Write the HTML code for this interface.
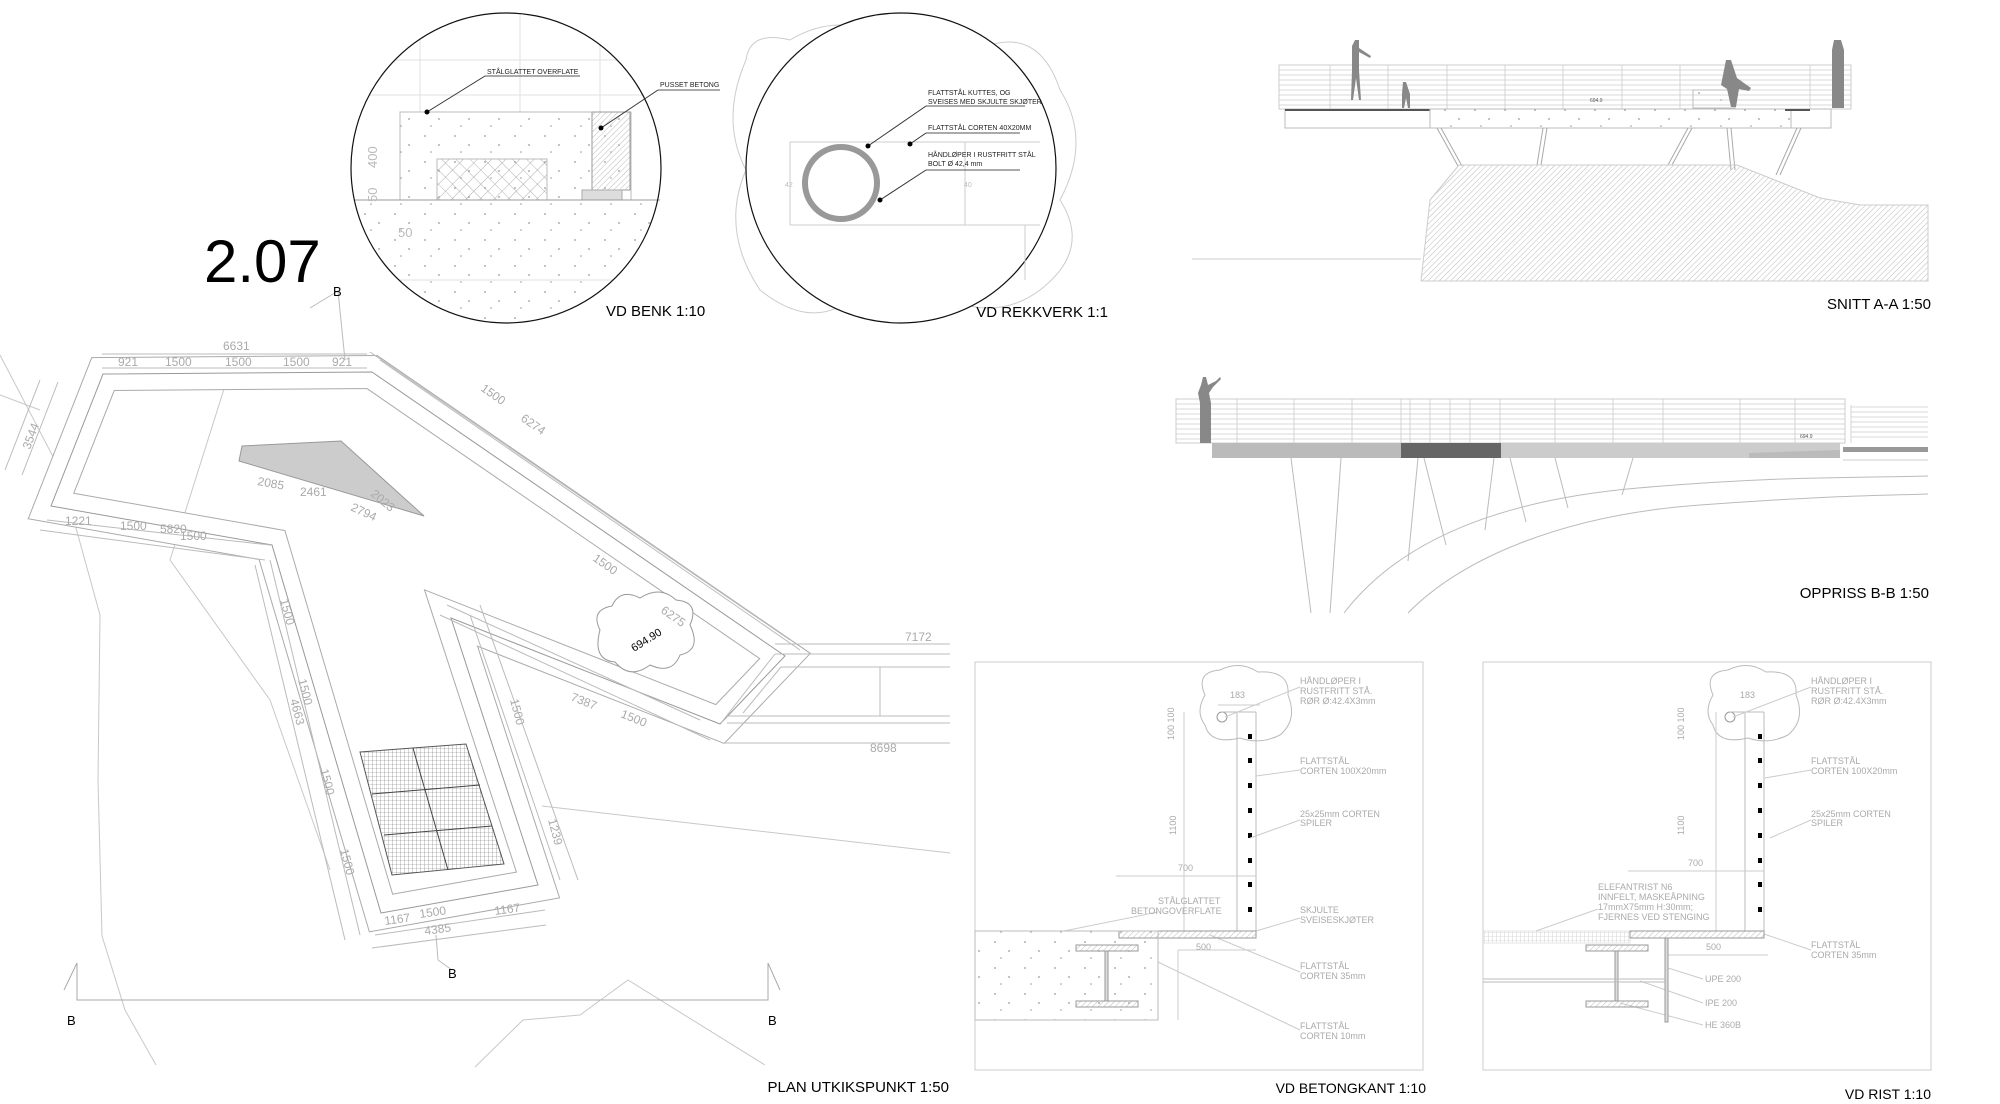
<!DOCTYPE html>
<html><head><meta charset="utf-8"><style>
html,body{margin:0;padding:0;background:#fff;}
svg{display:block}
text{font-family:"Liberation Sans",sans-serif;}
.m{font-family:"Liberation Mono",monospace;fill:#aaa;font-size:9px}
.d{font-family:"Liberation Sans",sans-serif;fill:#aaa;font-size:12px}
</style></head><body>
<svg width="2000" height="1104" viewBox="0 0 2000 1104" xmlns="http://www.w3.org/2000/svg">
<defs>
<pattern id="hatch" width="4" height="4" patternUnits="userSpaceOnUse" patternTransform="rotate(45)"><line x1="0" y1="0" x2="0" y2="4" stroke="#bbb" stroke-width="1"/></pattern>
<pattern id="xh" width="10" height="10" patternUnits="userSpaceOnUse" patternTransform="rotate(45)"><path d="M0 0H10M0 0V10" stroke="#999" stroke-width="0.8" fill="none"/></pattern>
<pattern id="grid" width="4" height="4" patternUnits="userSpaceOnUse"><path d="M0 0H4M0 0V4" stroke="#777" stroke-width="0.6" fill="none"/></pattern>
<pattern id="dots" width="30" height="26" patternUnits="userSpaceOnUse"><circle cx="5" cy="6" r="0.9" fill="#999"/><circle cx="19" cy="15" r="0.9" fill="#999"/><circle cx="11" cy="22" r="0.8" fill="#999"/></pattern>
</defs>

<text x="204" y="282" font-size="60" fill="#000">2.07</text>

<g>
<clipPath id="c1"><circle cx="506" cy="168" r="155"/></clipPath>
<g clip-path="url(#c1)" stroke="#e2e2e2" stroke-width="1">
<line x1="340" y1="60" x2="680" y2="60"/><line x1="340" y1="95" x2="680" y2="95"/><line x1="340" y1="280" x2="680" y2="280"/>
<line x1="420" y1="0" x2="420" y2="112"/><line x1="520" y1="0" x2="520" y2="112"/><line x1="600" y1="0" x2="600" y2="112"/>
<rect x="350" y="200" width="320" height="130" fill="url(#dots)" stroke="none"/>
</g>
<rect x="400" y="112" width="231" height="88" fill="url(#dots)" stroke="#bbb"/>
<rect x="437" y="159" width="110" height="41" fill="url(#xh)" stroke="#bbb"/>
<rect x="592" y="112" width="38" height="78" fill="url(#hatch)" stroke="#999"/>
<rect x="582" y="190" width="40" height="10" fill="#ddd" stroke="#aaa"/>
<line x1="355" y1="200" x2="660" y2="200" stroke="#999"/>
<text x="377" y="168" font-size="13" fill="#bbb" transform="rotate(-90 377 168)">400</text>
<text x="377" y="202" font-size="13" fill="#bbb" transform="rotate(-90 377 202)">50</text>
<text x="398" y="237" font-size="13" fill="#bbb">50</text>
<circle cx="506" cy="168" r="155" fill="none" stroke="#111" stroke-width="1.2"/>
<text x="487" y="74" font-size="7" fill="#222">STÅLGLATTET OVERFLATE</text>
<line x1="485" y1="76" x2="580" y2="76" stroke="#555"/>
<polyline points="485,76 427,112" stroke="#333" fill="none"/><circle cx="427" cy="112" r="2.5" fill="#000"/>
<text x="660" y="87" font-size="7" fill="#222">PUSSET BETONG</text>
<line x1="658" y1="90" x2="720" y2="90" stroke="#555"/>
<polyline points="658,90 601,128" stroke="#333" fill="none"/><circle cx="601" cy="128" r="2.5" fill="#000"/>
<text x="606" y="316" font-size="15" fill="#000">VD BENK 1:10</text>
</g>

<g>
<path d="M746,60 Q720,120 746,170 Q720,230 760,290 Q810,330 850,300 Q900,330 950,300 Q1000,320 1040,290 Q1092,250 1060,200 Q1092,140 1060,90 Q1040,30 990,45 Q940,10 890,40 Q840,10 790,40 Q750,30 746,60Z" fill="none" stroke="#ccc"/>
<circle cx="901" cy="168" r="155" fill="#fff" stroke="#111" stroke-width="1.2"/>
<circle cx="841" cy="183" r="36" fill="none" stroke="#999" stroke-width="6"/>
<line x1="790" y1="142" x2="1040" y2="142" stroke="#ccc"/><line x1="790" y1="225" x2="1040" y2="225" stroke="#ccc"/>
<line x1="790" y1="142" x2="790" y2="225" stroke="#ccc"/><line x1="965" y1="142" x2="965" y2="225" stroke="#ccc"/>
<text x="785" y="187" font-size="7" fill="#bbb">42</text><text x="964" y="187" font-size="7" fill="#bbb">40</text>
<line x1="925" y1="225" x2="1025" y2="225" stroke="#ccc"/><line x1="1025" y1="225" x2="1025" y2="280" stroke="#ccc"/>
<text x="928" y="95" font-size="7" fill="#222">FLATTSTÅL KUTTES, OG</text>
<text x="928" y="104" font-size="7" fill="#222">SVEISES MED SKJULTE SKJØTER</text>
<line x1="926" y1="106" x2="1025" y2="106" stroke="#555"/>
<polyline points="926,106 868,146" stroke="#333" fill="none"/><circle cx="868" cy="146" r="2.5" fill="#000"/>
<text x="928" y="130" font-size="7" fill="#222">FLATTSTÅL CORTEN 40X20MM</text>
<line x1="926" y1="133" x2="1020" y2="133" stroke="#555"/>
<polyline points="926,133 910,144" stroke="#333" fill="none"/><circle cx="910" cy="144" r="2.5" fill="#000"/>
<text x="928" y="157" font-size="7" fill="#222">HÅNDLØPER I RUSTFRITT STÅL</text>
<text x="928" y="166" font-size="7" fill="#222">BOLT Ø 42,4 mm</text>
<line x1="926" y1="170" x2="1020" y2="170" stroke="#555"/>
<polyline points="926,170 880,200" stroke="#333" fill="none"/><circle cx="880" cy="200" r="2.5" fill="#000"/>
<text x="1108" y="317" font-size="15" fill="#000" text-anchor="end">VD REKKVERK 1:1</text>
</g>

<g>
<rect x="1279" y="65" width="572" height="44" fill="none" stroke="#ccc"/>
<g stroke="#ccc" stroke-width="0.8">
<line x1="1279" y1="70" x2="1851" y2="70"/><line x1="1279" y1="75" x2="1851" y2="75"/><line x1="1279" y1="80" x2="1851" y2="80"/><line x1="1279" y1="85" x2="1851" y2="85"/><line x1="1279" y1="90" x2="1851" y2="90"/><line x1="1279" y1="95" x2="1851" y2="95"/><line x1="1279" y1="100" x2="1851" y2="100"/><line x1="1279" y1="105" x2="1851" y2="105"/>
<line x1="1330" y1="65" x2="1330" y2="109"/><line x1="1388" y1="65" x2="1388" y2="109"/><line x1="1447" y1="65" x2="1447" y2="109"/><line x1="1505" y1="65" x2="1505" y2="109"/><line x1="1563" y1="65" x2="1563" y2="109"/><line x1="1622" y1="65" x2="1622" y2="109"/><line x1="1680" y1="65" x2="1680" y2="109"/><line x1="1810" y1="65" x2="1810" y2="109"/>
</g>
<text x="1590" y="102" font-size="5" fill="#555">694.9</text>
<rect x="1285" y="109" width="145" height="19" fill="none" stroke="#bbb"/>
<line x1="1285" y1="110" x2="1430" y2="110" stroke="#555" stroke-width="2"/>
<rect x="1430" y="109" width="361" height="19" fill="url(#dots)" stroke="#bbb"/>
<rect x="1791" y="109" width="40" height="19" fill="none" stroke="#bbb"/>
<line x1="1785" y1="110" x2="1810" y2="110" stroke="#555" stroke-width="2"/>
<rect x="1693" y="90" width="42" height="18" fill="url(#dots)" stroke="#bbb"/>
<g fill="#888">
<path d="M1355,40 h4 v8 l12,8 -1,2 -11,-6 v18 l2,30 h-2 l-3,-22 -3,22 h-2 l1,-30 v-24z"/>
<path d="M1403,82 h3 l4,12 v14 h-2 l-2,-10 -2,10 h-2 v-14z"/>
<path d="M1726,60 h5 l6,18 l14,10 -2,3 -10,-2 -3,18 h-5 l-4,-18 -6,-4z"/>
<path d="M1834,40 h7 l3,10 v58 h-12 v-58z"/>
</g>
<g stroke="#aaa" fill="none">
<line x1="1437" y1="128" x2="1458" y2="166"/><line x1="1441" y1="128" x2="1462" y2="166"/>
<line x1="1543" y1="128" x2="1537" y2="165"/><line x1="1547" y1="128" x2="1541" y2="165"/>
<line x1="1688" y1="128" x2="1668" y2="165"/><line x1="1692" y1="128" x2="1672" y2="165"/>
<line x1="1727" y1="128" x2="1731" y2="170"/><line x1="1731" y1="128" x2="1735" y2="170"/>
<line x1="1797" y1="128" x2="1776" y2="175"/><line x1="1801" y1="128" x2="1780" y2="175"/>
</g>
<path d="M1459,165 L1737,165 L1820,198 L1860,205 L1928,205 L1928,281 L1421,281 L1430,200Z" fill="url(#hatch)" stroke="#ccc"/>
<line x1="1192" y1="259" x2="1421" y2="259" stroke="#ccc"/>
<text x="1931" y="309" font-size="15" fill="#000" text-anchor="end">SNITT A-A 1:50</text>
</g>

<g>
<rect x="1176" y="399" width="669" height="44" fill="none" stroke="#ccc"/>
<g stroke="#ccc" stroke-width="0.8">
<line x1="1176" y1="404" x2="1845" y2="404"/><line x1="1176" y1="409" x2="1845" y2="409"/><line x1="1176" y1="414" x2="1845" y2="414"/><line x1="1176" y1="419" x2="1845" y2="419"/><line x1="1176" y1="424" x2="1845" y2="424"/><line x1="1176" y1="429" x2="1845" y2="429"/><line x1="1176" y1="434" x2="1845" y2="434"/><line x1="1176" y1="439" x2="1845" y2="439"/>
<line x1="1237" y1="399" x2="1237" y2="443"/><line x1="1294" y1="399" x2="1294" y2="443"/><line x1="1352" y1="399" x2="1352" y2="443"/><line x1="1401" y1="399" x2="1401" y2="443"/><line x1="1410" y1="399" x2="1410" y2="443"/><line x1="1430" y1="399" x2="1430" y2="443"/><line x1="1450" y1="399" x2="1450" y2="443"/><line x1="1470" y1="399" x2="1470" y2="443"/><line x1="1500" y1="399" x2="1500" y2="443"/><line x1="1555" y1="399" x2="1555" y2="443"/><line x1="1613" y1="399" x2="1613" y2="443"/><line x1="1663" y1="399" x2="1663" y2="443"/><line x1="1740" y1="399" x2="1740" y2="443"/><line x1="1795" y1="399" x2="1795" y2="443"/>
<line x1="1851" y1="407" x2="1928" y2="407"/><line x1="1851" y1="412" x2="1928" y2="412"/><line x1="1851" y1="417" x2="1928" y2="417"/><line x1="1851" y1="422" x2="1928" y2="422"/><line x1="1851" y1="427" x2="1928" y2="427"/><line x1="1851" y1="432" x2="1928" y2="432"/><line x1="1851" y1="437" x2="1928" y2="437"/>
<line x1="1851" y1="405" x2="1851" y2="443"/>
</g>
<text x="1800" y="438" font-size="5" fill="#555">694.9</text>
<rect x="1212" y="443" width="189" height="15" fill="#bbb"/>
<rect x="1401" y="443" width="100" height="15" fill="#666"/>
<rect x="1501" y="443" width="172" height="15" fill="#ccc"/>
<rect x="1673" y="443" width="167" height="15" fill="#ccc"/>
<path d="M1749,458 L1840,458 L1840,450 L1749,453Z" fill="#bbb"/>
<rect x="1843" y="447" width="85" height="5" fill="#999"/>
<line x1="1843" y1="460" x2="1928" y2="460" stroke="#ccc"/>
<path d="M1200,443 v-40 l-2,-10 3,-8 2,-8 h3 l2,8 8,-4 4,-4 1,2 -8,8 -4,6 2,10 v40z" fill="#888"/>
<g stroke="#bbb" fill="none">
<line x1="1291" y1="458" x2="1311" y2="613"/><line x1="1341" y1="458" x2="1330" y2="613"/>
<line x1="1418" y1="458" x2="1408" y2="561"/><line x1="1424" y1="458" x2="1446" y2="545"/>
<line x1="1494" y1="458" x2="1485" y2="530"/><line x1="1510" y1="458" x2="1526" y2="522"/>
<line x1="1555" y1="458" x2="1568" y2="508"/><line x1="1633" y1="458" x2="1622" y2="495"/>
<path d="M1344,613 C1400,540 1500,500 1638,488 S1850,478 1928,476"/>
<path d="M1408,613 C1460,560 1560,515 1700,505 S1870,496 1928,494"/>
</g>
<text x="1929" y="598" font-size="15" fill="#000" text-anchor="end">OPPRISS B-B 1:50</text>
</g>

<g fill="none">
<g stroke="#c8c8c8">
<polyline points="0,355 60,470 100,615 98,780 102,936 125,1010 156,1065"/>
<polyline points="230,370 170,560 270,700 330,870"/>
<polyline points="475,1067 523,1020 580,1015 628,980 765,1065"/>
<line x1="542" y1="806" x2="950" y2="853"/>
<line x1="0" y1="395" x2="40" y2="410"/>
</g>
<path d="M103,374 L372,372 L785,656 L720,724 L451,618 L538,885 L381,913 L272,545 L51,506Z" stroke="#aaa" stroke-width="34" stroke-linejoin="miter"/>
<path d="M103,374 L372,372 L785,656 L720,724 L451,618 L538,885 L381,913 L272,545 L51,506Z" stroke="#fff" stroke-width="32" stroke-linejoin="miter"/>
<path d="M103,374 L372,372 L785,656 L720,724 L451,618 L538,885 L381,913 L272,545 L51,506Z" stroke="#999" stroke-width="1"/>
<g stroke="#bbb">
<line x1="102" y1="354" x2="367" y2="354"/><line x1="102" y1="368" x2="367" y2="368"/>
<line x1="40" y1="380" x2="5" y2="470"/><line x1="58" y1="382" x2="22" y2="475"/>
<line x1="47" y1="520" x2="270" y2="545"/><line x1="40" y1="530" x2="265" y2="560"/>
<line x1="380" y1="360" x2="800" y2="650"/><line x1="370" y1="352" x2="790" y2="640"/>
<line x1="447" y1="605" x2="700" y2="720"/><line x1="440" y1="615" x2="710" y2="740"/>
<line x1="270" y1="560" x2="360" y2="935"/><line x1="255" y1="565" x2="345" y2="940"/>
<line x1="470" y1="615" x2="560" y2="880"/><line x1="480" y1="605" x2="578" y2="880"/>
<line x1="375" y1="935" x2="545" y2="910"/><line x1="372" y1="948" x2="546" y2="925"/>
<line x1="436" y1="935" x2="438" y2="960"/><line x1="438" y1="960" x2="452" y2="970"/>
<line x1="338" y1="291" x2="310" y2="308"/><line x1="338" y1="291" x2="345" y2="360"/>
</g>
<path d="M242,446 L341,441 L424,516 L239,461Z" fill="#ccc" stroke="#999"/>
<path d="M360,752 L466,744 L504,864 L392,875Z" fill="url(#grid)" stroke="#555"/>
<g stroke="#444"><line x1="413" y1="748" x2="448" y2="870"/><line x1="372" y1="794" x2="480" y2="785"/><line x1="384" y1="835" x2="492" y2="826"/></g>
<g stroke="#bbb">
<line x1="775" y1="644" x2="950" y2="644"/><line x1="775" y1="654" x2="950" y2="654"/>
<line x1="781" y1="667" x2="950" y2="667"/><line x1="727" y1="716" x2="950" y2="716"/><line x1="727" y1="723" x2="950" y2="723"/>
<line x1="722" y1="743" x2="950" y2="743"/><line x1="775" y1="654" x2="721" y2="723"/><line x1="781" y1="667" x2="743" y2="713"/>
<line x1="880" y1="667" x2="880" y2="716"/>
</g>
<path d="M600,630 Q590,610 612,606 Q620,588 640,598 Q660,585 676,600 Q700,602 690,625 Q702,650 680,655 Q672,675 650,665 Q630,680 615,662 Q592,660 600,630Z" stroke="#999" fill="#fff"/>
</g>
<text x="634" y="652" font-size="11" fill="#000" transform="rotate(-32 634 652)">694.90</text>
<g class="d">
<text x="223" y="350">6631</text>
<text x="118" y="366">921</text><text x="165" y="366">1500</text><text x="225" y="366">1500</text><text x="283" y="366">1500</text><text x="332" y="366">921</text>
<text x="300" y="496" fill="#aaa">2461</text><text x="257" y="485" transform="rotate(10 257 485)">2085</text>
<text x="370" y="495" transform="rotate(40 370 495)">2023</text><text x="350" y="510" transform="rotate(25 350 510)">2794</text>
<text x="160" y="533">5820</text><text x="65" y="525">1221</text><text x="120" y="530">1500</text><text x="180" y="540">1500</text>
<text x="30" y="450" transform="rotate(-70 30 450)">3544</text>
<text x="520" y="420" transform="rotate(35 520 420)">6274</text><text x="660" y="612" transform="rotate(35 660 612)">6275</text>
<text x="592" y="560" transform="rotate(35 592 560)">1500</text><text x="480" y="390" transform="rotate(35 480 390)">1500</text>
<text x="570" y="700" transform="rotate(22 570 700)">7387</text><text x="620" y="717" transform="rotate(22 620 717)">1500</text>
<text x="905" y="641">7172</text><text x="870" y="752">8698</text>
<text x="420" y="918" transform="rotate(-8 420 918)">1500</text><text x="425" y="935" transform="rotate(-8 425 935)">4385</text>
<text x="385" y="925" transform="rotate(-8 385 925)">1167</text><text x="495" y="915" transform="rotate(-8 495 915)">1167</text>
<text x="280" y="600" transform="rotate(75 280 600)">1500</text><text x="298" y="680" transform="rotate(75 298 680)">1500</text><text x="320" y="770" transform="rotate(75 320 770)">1500</text><text x="340" y="850" transform="rotate(75 340 850)">1500</text>
<text x="290" y="700" transform="rotate(75 290 700)">4663</text>
<text x="510" y="700" transform="rotate(75 510 700)">1500</text><text x="548" y="820" transform="rotate(75 548 820)">1239</text>
</g>
<text x="333" y="296" font-size="13" fill="#000">B</text>
<text x="448" y="978" font-size="13" fill="#000">B</text>
<text x="67" y="1025" font-size="13" fill="#000">B</text>
<text x="768" y="1025" font-size="13" fill="#000">B</text>
<g stroke="#aaa" fill="none"><polyline points="64,990 77,963 77,1000 768,1000 768,963 780,990"/></g>
<text x="949" y="1092" font-size="15" fill="#000" text-anchor="end">PLAN UTKIKSPUNKT 1:50</text>

<g>
<rect x="975" y="662" width="448" height="408" fill="none" stroke="#ccc"/>
<path d="M1205,695 Q1195,672 1220,670 Q1240,660 1258,672 Q1290,670 1288,695 Q1298,720 1280,735 Q1260,745 1240,738 Q1210,745 1205,725 Q1195,712 1205,695Z" fill="none" stroke="#bbb"/>
<circle cx="1222" cy="717" r="5" fill="none" stroke="#999"/>
<line x1="1237" y1="712" x2="1237" y2="931" stroke="#bbb"/><line x1="1256" y1="712" x2="1256" y2="931" stroke="#bbb"/>
<line x1="1222" y1="712" x2="1256" y2="712" stroke="#bbb"/>
<g fill="#000"><rect x="1248" y="734" width="4" height="5"/><rect x="1248" y="758" width="4" height="5"/><rect x="1248" y="783" width="4" height="5"/><rect x="1248" y="808" width="4" height="5"/><rect x="1248" y="833" width="4" height="5"/><rect x="1248" y="858" width="4" height="5"/><rect x="1248" y="882" width="4" height="5"/><rect x="1248" y="907" width="4" height="5"/></g>
<g stroke="#ccc"><line x1="1184" y1="712" x2="1184" y2="931"/><line x1="1116" y1="876" x2="1256" y2="876"/><line x1="1178" y1="950" x2="1256" y2="950"/><line x1="1178" y1="950" x2="1178" y2="1020"/><line x1="1218" y1="705" x2="1260" y2="705"/>
<line x1="1300" y1="687" x2="1225" y2="717"/><line x1="1300" y1="770" x2="1256" y2="776"/><line x1="1300" y1="820" x2="1250" y2="838"/><line x1="1300" y1="918" x2="1256" y2="931"/><line x1="1300" y1="972" x2="1210" y2="935"/><line x1="1300" y1="1030" x2="1158" y2="962"/><line x1="1158" y1="912" x2="1064" y2="931"/></g>
<rect x="1119" y="931" width="137" height="7" fill="url(#hatch)" stroke="#999"/>
<rect x="975" y="931" width="183" height="89" fill="url(#dots)" stroke="#bbb"/>
<rect x="1076" y="945" width="62" height="6" fill="url(#hatch)" stroke="#999"/>
<rect x="1076" y="1001" width="62" height="6" fill="url(#hatch)" stroke="#999"/>
<rect x="1105" y="951" width="3" height="50" fill="#ddd" stroke="#999"/>
<g class="m">
<text x="1176" y="835" transform="rotate(-90 1176 835)">1100</text><text x="1178" y="871">700</text><text x="1196" y="950">500</text><text x="1230" y="698">183</text>
<text x="1174" y="740" transform="rotate(-90 1174 740)">100 100</text>
<text x="1300" y="684">HÅNDLØPER I</text><text x="1300" y="694">RUSTFRITT STÅ.</text><text x="1300" y="704">RØR Ø:42.4X3mm</text>
<text x="1300" y="764">FLATTSTÅL</text><text x="1300" y="774">CORTEN 100X20mm</text>
<text x="1300" y="817">25x25mm CORTEN</text><text x="1300" y="826">SPILER</text>
<text x="1158" y="904">STÅLGLATTET</text><text x="1131" y="914">BETONGOVERFLATE</text>
<text x="1300" y="913">SKJULTE</text><text x="1300" y="923">SVEISESKJØTER</text>
<text x="1300" y="969">FLATTSTÅL</text><text x="1300" y="979">CORTEN 35mm</text>
<text x="1300" y="1029">FLATTSTÅL</text><text x="1300" y="1039">CORTEN 10mm</text>
</g>
<text x="1426" y="1093" font-size="14" fill="#000" text-anchor="end">VD BETONGKANT 1:10</text>
</g>

<g>
<rect x="1483" y="662" width="448" height="408" fill="none" stroke="#ccc"/>
<path d="M1713,695 Q1703,672 1728,670 Q1748,660 1766,672 Q1798,670 1796,695 Q1806,720 1788,735 Q1768,745 1748,738 Q1718,745 1713,725 Q1703,712 1713,695Z" fill="none" stroke="#bbb"/>
<circle cx="1730" cy="717" r="5" fill="none" stroke="#999"/>
<line x1="1745" y1="712" x2="1745" y2="931" stroke="#bbb"/><line x1="1764" y1="712" x2="1764" y2="931" stroke="#bbb"/>
<line x1="1730" y1="712" x2="1764" y2="712" stroke="#bbb"/>
<g fill="#000"><rect x="1758" y="734" width="4" height="5"/><rect x="1758" y="758" width="4" height="5"/><rect x="1758" y="783" width="4" height="5"/><rect x="1758" y="808" width="4" height="5"/><rect x="1758" y="833" width="4" height="5"/><rect x="1758" y="858" width="4" height="5"/><rect x="1758" y="882" width="4" height="5"/><rect x="1758" y="907" width="4" height="5"/></g>
<g stroke="#ccc"><line x1="1716" y1="712" x2="1716" y2="931"/><line x1="1628" y1="871" x2="1764" y2="871"/><line x1="1668" y1="955" x2="1768" y2="955"/>
<line x1="1811" y1="687" x2="1733" y2="717"/><line x1="1811" y1="770" x2="1765" y2="778"/><line x1="1811" y1="820" x2="1770" y2="838"/><line x1="1811" y1="950" x2="1764" y2="934"/>
<line x1="1703" y1="979" x2="1668" y2="968"/><line x1="1703" y1="1003" x2="1640" y2="981"/><line x1="1703" y1="1025" x2="1620" y2="1003"/><line x1="1598" y1="909" x2="1536" y2="931"/></g>
<rect x="1483" y="931" width="147" height="12" fill="url(#grid)" stroke="#ccc" opacity="0.5"/>
<rect x="1630" y="931" width="134" height="7" fill="url(#hatch)" stroke="#999"/>
<rect x="1586" y="945" width="62" height="6" fill="url(#hatch)" stroke="#999"/>
<rect x="1586" y="1001" width="62" height="6" fill="url(#hatch)" stroke="#999"/>
<rect x="1615" y="951" width="3" height="50" fill="#ddd" stroke="#999"/>
<rect x="1665" y="938" width="3" height="84" fill="#ddd" stroke="#999"/>
<line x1="1483" y1="979" x2="1665" y2="979" stroke="#bbb"/><line x1="1483" y1="982" x2="1665" y2="982" stroke="#bbb"/>
<g class="m">
<text x="1684" y="835" transform="rotate(-90 1684 835)">1100</text><text x="1688" y="866">700</text><text x="1706" y="950">500</text><text x="1740" y="698">183</text>
<text x="1684" y="740" transform="rotate(-90 1684 740)">100 100</text>
<text x="1811" y="684">HÅNDLØPER I</text><text x="1811" y="694">RUSTFRITT STÅ.</text><text x="1811" y="704">RØR Ø:42.4X3mm</text>
<text x="1811" y="764">FLATTSTÅL</text><text x="1811" y="774">CORTEN 100X20mm</text>
<text x="1811" y="817">25x25mm CORTEN</text><text x="1811" y="826">SPILER</text>
<text x="1598" y="890">ELEFANTRIST N6</text><text x="1598" y="900">INNFELT, MASKEÅPNING</text><text x="1598" y="910">17mmX75mm H:30mm;</text><text x="1598" y="920">FJERNES VED STENGING</text>
<text x="1811" y="948">FLATTSTÅL</text><text x="1811" y="958">CORTEN 35mm</text>
<text x="1705" y="982">UPE 200</text><text x="1705" y="1006">IPE 200</text><text x="1705" y="1028">HE 360B</text>
</g>
<text x="1931" y="1099" font-size="14" fill="#000" text-anchor="end">VD RIST 1:10</text>
</g>
</svg>
</body></html>
